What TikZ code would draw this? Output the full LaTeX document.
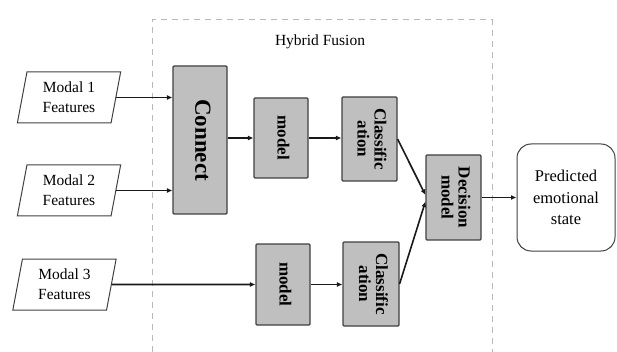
\documentclass[tikz,border=0pt]{standalone}
\usepackage{fontspec}
\setmainfont{Liberation Serif}
\usepackage{graphicx}
\usetikzlibrary{arrows.meta,shapes.geometric}

\newcommand{\vlabel}[1]{\rotatebox{-90}{\begin{tabular}{@{}c@{}}#1\end{tabular}}}

\begin{document}
\begin{tikzpicture}[x=1pt, y=-1pt, >={Latex[length=5.5pt,width=5pt]},
	every node/.style={font=\fontsize{15.5}{20}\selectfont},
	feat/.style={draw=black!75, line width=1pt, trapezium, trapezium left angle=79, trapezium right angle=101, trapezium stretches=true, minimum width=104pt, minimum height=51pt, align=center, inner sep=0pt},
	blk/.style={draw=black!75, line width=1.1pt, fill=gray!50, rounded corners=1pt, inner sep=0pt, font=\fontsize{17}{17}\selectfont\bfseries},
	outp/.style={draw=black!75, line width=1pt, rounded corners=14pt, align=center, font=\fontsize{16.5}{21.5}\selectfont},
	flow/.style={->, line width=1.6pt, black!90}]
	\useasboundingbox (0,0) rectangle (617,352);
	% hybrid fusion frame
	\draw[gray!55, line width=1pt, dash pattern=on 6pt off 5pt] (152,352) -- (152,20) -- (492,20) -- (492,352);
	\node (title) at (320,42) {Hybrid Fusion};
	% inputs
	\node[feat] (m1) at (69,97.5) {Modal 1\\Features};
	\node[feat] (m2) at (69,190.5) {Modal 2\\Features};
	\node[feat] (m3) at (64.5,284.5) {Modal 3\\Features};
	% blocks
	\node[blk, minimum width=54pt, minimum height=148pt, font=\fontsize{23}{23}\selectfont\bfseries] (con) at (200,140) {\vlabel{Connect}};
	\node[blk, minimum width=54pt, minimum height=80pt] (mod1) at (281,138) {\vlabel{model}};
	\node[blk, minimum width=55pt, minimum height=84pt] (cls1) at (369.5,139) {\vlabel{Classific\\ation}};
	\node[blk, minimum width=54pt, minimum height=81pt] (mod2) at (283,284.5) {\vlabel{model}};
	\node[blk, minimum width=56pt, minimum height=84pt] (cls2) at (371,284) {\vlabel{Classific\\ation}};
	\node[blk, minimum width=55pt, minimum height=85pt] (dec) at (453.5,197.5) {\vlabel{Decision\\model}};
	\node[outp, minimum width=98pt, minimum height=107pt] (pred) at (566,197.5) {Predicted\\emotional\\state};
	% connectors
	\draw[flow] (m1.east) -- (m1.east -| con.west);
	\draw[flow] (m2.east) -- (m2.east -| con.west);
	\draw[flow] (m3.east) -- (mod2.west);
	\draw[flow] (con.east |- mod1) -- (mod1.west);
	\draw[flow] (mod1.east) -- (mod1.east -| cls1.west);
	\draw[flow] (mod2.east) -- (mod2.east -| cls2.west);
	\draw[flow] (cls1.east) -- ([yshift=2.5pt]dec.west);
	\draw[flow] (cls2.east) -- ([yshift=-4pt]dec.west);
	\draw[flow] (dec.east) -- (pred.west);
\end{tikzpicture}
\end{document}
